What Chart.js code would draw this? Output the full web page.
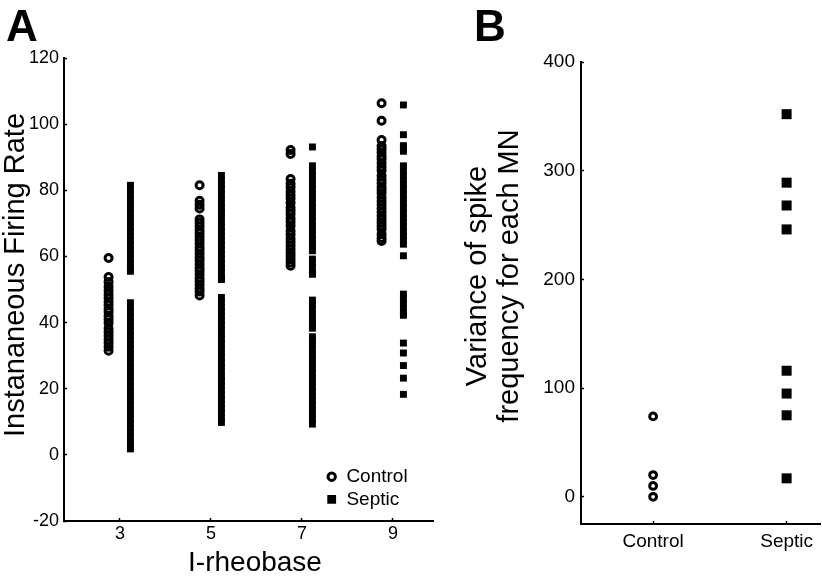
<!DOCTYPE html>
<html><head><meta charset="utf-8">
<script src="https://cdn.jsdelivr.net/npm/chart.js@4.4.1/dist/chart.umd.min.js"></script>
<style>
html,body{margin:0;padding:0;background:#fff;}
#wrap{position:relative;width:822px;height:582px;overflow:hidden;background:#fff;}
canvas{position:absolute;top:0;}
.letter{position:absolute;font:bold 44px 'Liberation Sans',Arial,sans-serif;line-height:1;color:#000;}
</style></head><body>
<div id="wrap">
<canvas id="chartA" width="440" height="582" style="left:0px;width:440px;height:582px"></canvas>
<canvas id="chartB" width="382" height="582" style="left:440px;width:382px;height:582px"></canvas>
<div class="letter" style="left:6px;top:4px">A</div>
<div class="letter" style="left:474px;top:4px">B</div>
</div>
<script>
// ---------- Panel A data ----------
const rheobaseCats = [3, 5, 7, 9];
const yTicksA = [-20, 0, 20, 40, 60, 80, 100, 120];
const control3 = [59.5, 53.8, 52.3, 50.8, 49.6, 48.5, 47.4, 46.3, 45.2, 44.1, 43.2, 42.0, 41.0, 39.9, 38.2, 37.1, 36.0, 34.9, 33.8, 32.7, 31.5];
const control5 = [81.5, 76.8, 75.6, 74.5, 71.2, 70.2, 69.1, 68.0, 67.1, 66.0, 65.0, 63.9, 62.8, 61.9, 60.8, 59.7, 58.8, 57.6, 56.5, 55.6, 54.5, 53.4, 52.5, 51.4, 50.3, 49.4, 48.2];
const control7 = [92.2, 91.0, 83.4, 82.0, 80.9, 79.6, 78.6, 77.5, 76.2, 74.8, 73.8, 72.8, 71.5, 70.4, 69.2, 67.7, 66.6, 65.4, 64.4, 63.3, 62.2, 61.1, 60.2, 59.2, 58.2, 57.2];
const control9 = [106.3, 101.0, 95.2, 93.4, 92.4, 91.4, 90.3, 89.4, 88.2, 87.0, 86.0, 84.4, 83.2, 82.1, 81.0, 80.1, 79.1, 77.8, 76.7, 75.6, 74.5, 73.4, 72.3, 71.2, 70.2, 69.2, 68.2, 66.7, 65.6, 64.7];
const septic3 = [81.5, 80.2, 78.8, 77.3, 75.9, 74.6, 73.1, 71.7, 70.4, 68.9, 67.5, 66.2, 64.8, 63.3, 62.0, 60.6, 59.1, 57.8, 56.3, 55.5,
  46.0, 44.6, 43.1, 41.8, 40.3, 38.9, 37.6, 36.1, 34.7, 33.4, 31.9, 30.5, 29.2, 27.7, 26.3, 25.0, 23.5, 22.1, 20.8, 19.3, 17.9, 16.6, 15.1, 13.7, 12.4, 10.9, 9.5, 8.2, 6.7, 5.3, 4.0, 2.6, 1.8];
const septic5 = [84.5, 83.1, 81.6, 80.3, 78.8, 77.4, 76.1, 74.6, 73.2, 71.9, 70.4, 69.0, 67.7, 66.2, 64.8, 63.5, 62.0, 60.6, 59.3, 57.8, 56.4, 55.1, 53.6, 53.0,
  47.6, 46.2, 44.7, 43.4, 42.0, 40.5, 39.2, 37.8, 36.3, 35.0, 33.6, 32.1, 30.8, 29.4, 27.9, 26.6, 25.2, 23.7, 22.4, 21.0, 19.5, 18.2, 16.8, 15.3, 14.0, 12.6, 11.1, 9.8];
const septic7 = [93.1, 87.4, 86.0, 84.6, 83.1, 81.8, 80.4, 78.9, 77.6, 76.2, 74.7, 73.4, 72.0, 70.5, 69.2, 67.8, 66.3, 65.0, 63.6, 62.5, 61.7,
  59.2, 58.0, 56.6, 55.2, 54.6,
  46.8, 45.4, 44.0, 42.5, 41.2, 39.8, 38.9, 38.3,
  35.7, 34.6, 33.2, 31.7, 30.4, 29.0, 27.5, 26.2, 24.8, 23.3, 22.0, 20.6, 19.1, 17.8, 16.4, 14.9, 13.6, 12.2, 10.7, 9.3];
const septic9 = [105.8, 96.8, 93.5, 92.6, 91.8, 87.4, 86.0, 84.5, 83.1, 81.7, 80.3, 78.8, 77.4, 76.0, 74.6, 73.1, 71.8, 70.3, 69.0, 67.5, 66.1, 64.8, 63.7,
  60.2, 48.6, 47.2, 45.8, 44.3, 43.0, 42.2, 33.8, 30.8, 27.0, 23.2, 18.3];

// ---------- Panel B data ----------
const groupsB = ['Control', 'Septic'];
const yTicksB = [0, 100, 200, 300, 400];
const varianceControl = [74, 20, 10, 0];
const varianceSeptic = [352, 289, 268, 246, 116, 95, 75, 17];

// ---------- helpers ----------
const FONT = "'Liberation Sans', Arial, sans-serif";
Chart.defaults.font.family = FONT;
Chart.defaults.color = '#000';

const CONTROL_SHIFT = -0.25, SEPTIC_SHIFT = 0.23;
const controlCols = [control3, control5, control7, control9];
const septicCols = [septic3, septic5, septic7, septic9];
const controlPts = [];
const septicPts = [];
rheobaseCats.forEach((c, i) => {
  controlCols[i].forEach(v => controlPts.push({x: c + CONTROL_SHIFT, y: v}));
  septicCols[i].forEach(v => septicPts.push({x: c + SEPTIC_SHIFT, y: v}));
});

// shift axis titles along their axis
const titleShift = {
  id: 'titleShift',
  afterLayout(chart, args, opts) {
    const shifts = opts.shifts || {};
    Object.keys(shifts).forEach(id => {
      const s = chart.scales[id];
      if (!s || s._shiftPatched) return;
      const d = shifts[id];
      const orig = s.drawTitle;
      s.drawTitle = function() {
        const save = {top: this.top, bottom: this.bottom, left: this.left, right: this.right};
        this.top += d.dy || 0; this.bottom += d.dy || 0;
        this.left += d.dx || 0; this.right += d.dx || 0;
        orig.apply(this, arguments);
        Object.assign(this, save);
      };
      s._shiftPatched = true;
    });
  }
};
// place legend inside plot, bottom right
const legendPlace = {
  id: 'legendPlace',
  afterLayout(chart, args, opts) {
    const lg = chart.legend;
    if (!lg || !opts.enabled) return;
    const ca = chart.chartArea;
    lg.left = ca.right + opts.dx;
    lg.top = ca.bottom + opts.dy;
    lg.right = lg.left + 160;
    lg.bottom = lg.top + 100;
    lg.width = 160; lg.height = 100;
  }
};

function axisCommon(fontSize, pad) {
  return {
    grid: {drawOnChartArea: false, tickLength: -3, color: '#000', tickWidth: 1.5},
    border: {color: '#000', width: 2},
    ticks: {font: {size: fontSize}, color: '#000', padding: pad, maxRotation: 0, autoSkip: false}
  };
}
const noPadX = s => { s.paddingLeft = 0; s.paddingRight = 0; };
const noPadY = s => { s.paddingTop = 0; s.paddingBottom = 0; };

// ---------- Chart A ----------
new Chart(document.getElementById('chartA'), {
  type: 'scatter',
  data: {
    datasets: [
      {label: 'Control', data: controlPts, pointStyle: 'circle', pointRadius: 3.5, pointBorderWidth: 3.0,
       pointBackgroundColor: 'rgba(0,0,0,0)', pointBorderColor: '#000', backgroundColor: 'rgba(0,0,0,0)', borderColor: '#000'},
      {label: 'Septic', data: septicPts, pointStyle: 'rect', pointRadius: 4.9, pointBorderWidth: 0,
       pointBackgroundColor: '#000', pointBorderColor: '#000', backgroundColor: '#000', borderColor: '#000'}
    ]
  },
  options: {
    responsive: false, animation: false, devicePixelRatio: 1, events: [],
    layout: {autoPadding: false, padding: {left: 0, top: 58, right: 7, bottom: 0}},
    scales: {
      x: Object.assign(axisCommon(18, 5.5), {
        type: 'linear', min: 1.77, max: 9.88,
        afterBuildTicks: s => { s.ticks = rheobaseCats.map(v => ({value: v})); },
        afterFit: s => { s.height = 61; noPadX(s); },
        title: {display: true, text: 'I-rheobase', color: '#000', font: {size: 28, lineHeight: 1.2}, padding: {top: 0, bottom: 2}}
      }),
      y: Object.assign(axisCommon(18, 8), {
        type: 'linear', min: -20, max: 120,
        afterBuildTicks: s => { s.ticks = yTicksA.map(v => ({value: v})); },
        afterFit: s => { s.width = 64; noPadY(s); },
        title: {display: true, text: 'Instananeous Firing Rate', color: '#000', font: {size: 29, lineHeight: 1.1}, padding: {top: 0, bottom: 0}}
      })
    },
    plugins: {
      tooltip: {enabled: false},
      titleShift: {shifts: {y: {dy: -14.5}, x: {dx: 6.5}}},
      legendPlace: {enabled: true, dx: -110.1, dy: -57.4},
      legend: {
        display: true, position: 'chartArea', align: 'start',
        labels: {
          usePointStyle: true, boxHeight: 5.2, boxWidth: 10.4, padding: 3.6,
          color: '#000', font: {size: 19},
          generateLabels(chart) {
            const items = Chart.defaults.plugins.legend.labels.generateLabels(chart);
            items.forEach(it => {
              if (it.pointStyle === 'rect') { it.lineWidth = 3.6; it.strokeStyle = '#000'; it.fillStyle = '#000'; }
              else { it.lineWidth = 3.0; it.strokeStyle = '#000'; it.fillStyle = 'rgba(0,0,0,0)'; }
            });
            return items;
          }
        }
      }
    }
  },
  plugins: [titleShift, legendPlace]
});

// ---------- Chart B ----------
new Chart(document.getElementById('chartB'), {
  type: 'scatter',
  data: {
    datasets: [
      {label: groupsB[0], data: varianceControl.map(v => ({x: 1, y: v})), pointStyle: 'circle', pointRadius: 3.4, pointBorderWidth: 3.0,
       pointBackgroundColor: 'rgba(0,0,0,0)', pointBorderColor: '#000'},
      {label: groupsB[1], data: varianceSeptic.map(v => ({x: 2, y: v})), pointStyle: 'rect', pointRadius: 7.07, pointBorderWidth: 0,
       pointBackgroundColor: '#000', pointBorderColor: '#000'}
    ]
  },
  options: {
    responsive: false, animation: false, devicePixelRatio: 1, events: [],
    layout: {autoPadding: false, padding: {left: 22, top: 62, right: 2, bottom: 0}},
    scales: {
      x: Object.assign(axisCommon(19, 9.5), {
        type: 'linear', min: 0.46, max: 2.25,
        afterBuildTicks: s => { s.ticks = groupsB.map((g, i) => ({value: i + 1})); },
        afterFit: s => { s.height = 58; noPadX(s); }
      }),
      y: Object.assign(axisCommon(19, 9), {
        type: 'linear', min: -25, max: 400,
        afterBuildTicks: s => { s.ticks = yTicksB.map(v => ({value: v})); },
        afterFit: s => { s.width = 119; noPadY(s); },
        title: {display: true, text: ['Variance of spike', 'frequency for each MN'], color: '#000', font: {size: 29, lineHeight: 1.1}, padding: {top: 0, bottom: 0}}
      })
    },
    plugins: {
      tooltip: {enabled: false},
      legend: {display: false},
      titleShift: {shifts: {y: {dy: -17}}}
    }
  },
  plugins: [titleShift]
});
// x tick labels for B
(function(){
  const ch = Chart.getChart('chartB');
  ch.options.scales.x.ticks.callback = (v) => groupsB[Math.round(v) - 1];
  ch.update();
})();
</script>
</body></html>
